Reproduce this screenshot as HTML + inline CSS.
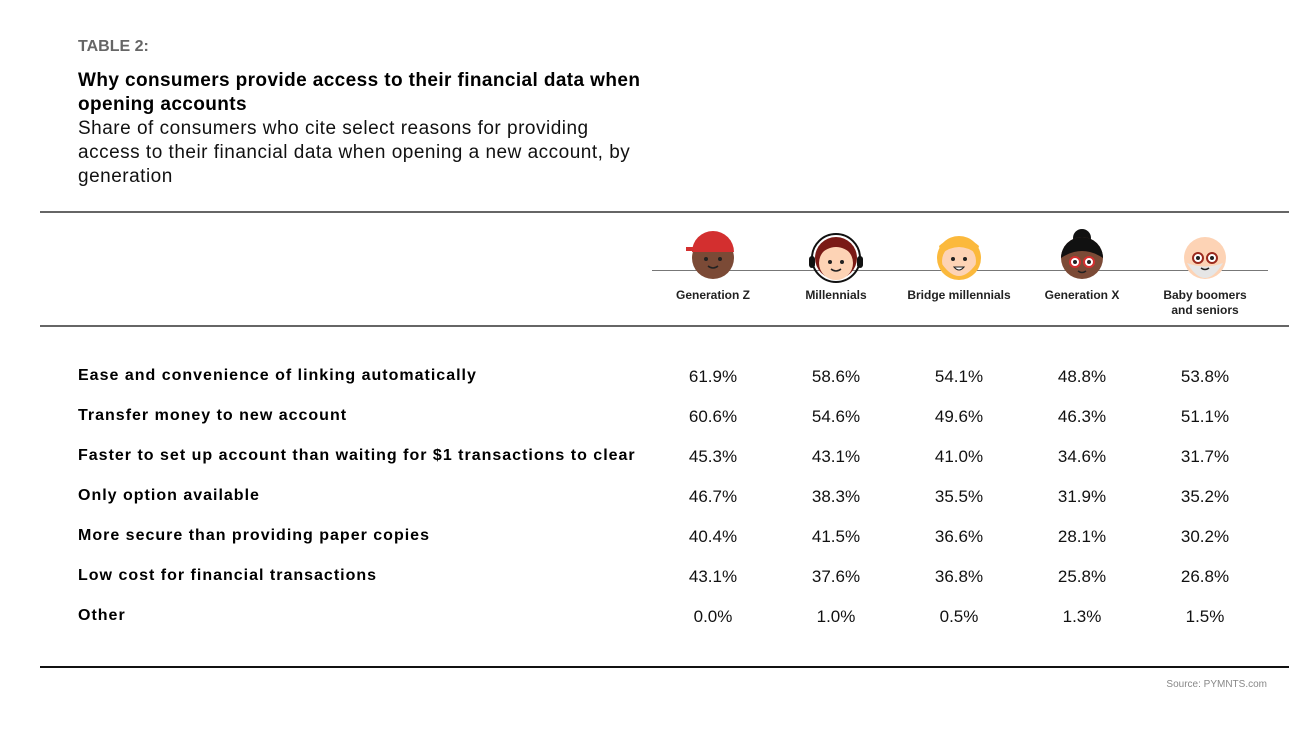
<!DOCTYPE html>
<html><head><meta charset="utf-8"><style>
body{margin:0;width:1289px;height:731px;background:#fff;position:relative;overflow:hidden;font-family:"Liberation Sans",sans-serif;color:#000}
.a{position:absolute;white-space:nowrap}
.t{font-weight:bold;font-size:16px;color:#666;left:78px;top:38px}
.h{font-weight:bold;font-size:19px;left:78px;line-height:24px;letter-spacing:0.4px}
.s{font-size:19px;left:78px;line-height:24px;color:#111;letter-spacing:0.5px}
.r{font-weight:bold;font-size:16px;left:78px;letter-spacing:1px}
.v{font-size:17px;width:120px;text-align:center;color:#111}
.c{font-weight:bold;font-size:12px;width:130px;text-align:center;line-height:15px;color:#222}
.ln{position:absolute;left:40px;right:0}
</style></head><body>
<div class="a t">TABLE 2:</div>
<div class="a h" style="top:69px">Why consumers provide access to their financial data when<br>opening accounts</div>
<div class="a s" style="top:117px">Share of consumers who cite select reasons for providing<br>access to their financial data when opening a new account, by<br>generation</div>
<div class="ln" style="top:211px;height:2px;background:#666"></div>
<div class="ln" style="top:325px;height:2px;background:#666"></div>
<div class="ln" style="top:666px;height:2px;background:#111"></div>
<div class="a" style="left:652px;width:616px;top:270px;height:1px;background:#777"></div>
<svg class="a" style="left:640px;top:228px" width="640" height="60">
<g transform="translate(73,30)"><circle r="21" fill="#7b4a36"/><path d="M-21,-6 A21,21 0 0 1 21,-6 Z" fill="#d32f2f"/><rect x="-27" y="-11" width="16" height="4" fill="#d32f2f"/><circle cx="-7" cy="1" r="2" fill="#222"/><circle cx="7" cy="1" r="2" fill="#222"/><path d="M-5,8 Q0,12 5,8" stroke="#222" fill="none" stroke-width="1.5"/></g>
<g transform="translate(196,30)"><circle r="24" fill="none" stroke="#111" stroke-width="2"/><circle r="21" fill="#7a1a16"/><circle cy="5" r="17" fill="#fdd3b5"/><path d="M-18,-2 Q0,-20 18,-2 L18,-10 Q0,-25 -18,-10Z" fill="#7a1a16"/><rect x="-27" y="-2" width="6" height="12" rx="3" fill="#111"/><rect x="21" y="-2" width="6" height="12" rx="3" fill="#111"/><circle cx="-6" cy="4" r="2" fill="#222"/><circle cx="6" cy="4" r="2" fill="#222"/><path d="M-5,11 Q0,15 5,11" stroke="#222" fill="none" stroke-width="1.5"/></g>
<g transform="translate(319,30)"><circle r="22" fill="#fbb93c"/><circle cy="3" r="17" fill="#fdd3b5"/><path d="M-18,-4 Q0,-18 18,-4 L20,-12 Q0,-30 -20,-12Z" fill="#fbb93c"/><path d="M-17,6 Q0,30 17,6 L17,14 Q0,28 -17,14Z" fill="#fbb93c"/><circle cx="-6" cy="1" r="2" fill="#222"/><circle cx="6" cy="1" r="2" fill="#222"/><path d="M-5,9 Q0,15 5,9Z" fill="#fff" stroke="#222"/></g>
<g transform="translate(442,30)"><circle cy="-20" r="9" fill="#111"/><circle r="21" fill="#7b4a36"/><path d="M-21,0 A21,21 0 0 1 21,0 Q0,-14 -21,0Z" fill="#111"/><circle cx="-7" cy="4" r="5" fill="#fff" stroke="#d32f2f" stroke-width="2"/><circle cx="7" cy="4" r="5" fill="#fff" stroke="#d32f2f" stroke-width="2"/><circle cx="-7" cy="4" r="2" fill="#222"/><circle cx="7" cy="4" r="2" fill="#222"/><path d="M-4,13 Q0,16 4,13" stroke="#222" fill="none" stroke-width="1.5"/></g>
<g transform="translate(565,30)"><circle r="21" fill="#fdd3b5"/><path d="M-18,5 Q0,35 18,5 Q0,12 -18,5Z" fill="#e6e6e6"/><circle cx="-7" cy="0" r="5" fill="#fff" stroke="#9b2a1e" stroke-width="2"/><circle cx="7" cy="0" r="5" fill="#fff" stroke="#9b2a1e" stroke-width="2"/><circle cx="-7" cy="0" r="2" fill="#222"/><circle cx="7" cy="0" r="2" fill="#222"/><path d="M-4,10 Q0,13 4,10" stroke="#222" fill="none" stroke-width="1.5"/></g>
</svg>
<div class="a c" style="left:648px;top:288px">Generation Z</div>
<div class="a c" style="left:771px;top:288px">Millennials</div>
<div class="a c" style="left:894px;top:288px">Bridge millennials</div>
<div class="a c" style="left:1017px;top:288px">Generation X</div>
<div class="a c" style="left:1140px;top:288px">Baby boomers<br>and seniors</div>

<div class="a r" style="top:367px">Ease and convenience of linking automatically</div>
<div class="a r" style="top:407px">Transfer money to new account</div>
<div class="a r" style="top:447px">Faster to set up account than waiting for $1 transactions to clear</div>
<div class="a r" style="top:487px">Only option available</div>
<div class="a r" style="top:527px">More secure than providing paper copies</div>
<div class="a r" style="top:567px">Low cost for financial transactions</div>
<div class="a r" style="top:607px">Other</div>

<div class="a v" style="left:653px;top:367px">61.9%</div><div class="a v" style="left:776px;top:367px">58.6%</div><div class="a v" style="left:899px;top:367px">54.1%</div><div class="a v" style="left:1022px;top:367px">48.8%</div><div class="a v" style="left:1145px;top:367px">53.8%</div>
<div class="a v" style="left:653px;top:407px">60.6%</div><div class="a v" style="left:776px;top:407px">54.6%</div><div class="a v" style="left:899px;top:407px">49.6%</div><div class="a v" style="left:1022px;top:407px">46.3%</div><div class="a v" style="left:1145px;top:407px">51.1%</div>
<div class="a v" style="left:653px;top:447px">45.3%</div><div class="a v" style="left:776px;top:447px">43.1%</div><div class="a v" style="left:899px;top:447px">41.0%</div><div class="a v" style="left:1022px;top:447px">34.6%</div><div class="a v" style="left:1145px;top:447px">31.7%</div>
<div class="a v" style="left:653px;top:487px">46.7%</div><div class="a v" style="left:776px;top:487px">38.3%</div><div class="a v" style="left:899px;top:487px">35.5%</div><div class="a v" style="left:1022px;top:487px">31.9%</div><div class="a v" style="left:1145px;top:487px">35.2%</div>
<div class="a v" style="left:653px;top:527px">40.4%</div><div class="a v" style="left:776px;top:527px">41.5%</div><div class="a v" style="left:899px;top:527px">36.6%</div><div class="a v" style="left:1022px;top:527px">28.1%</div><div class="a v" style="left:1145px;top:527px">30.2%</div>
<div class="a v" style="left:653px;top:567px">43.1%</div><div class="a v" style="left:776px;top:567px">37.6%</div><div class="a v" style="left:899px;top:567px">36.8%</div><div class="a v" style="left:1022px;top:567px">25.8%</div><div class="a v" style="left:1145px;top:567px">26.8%</div>
<div class="a v" style="left:653px;top:607px">0.0%</div><div class="a v" style="left:776px;top:607px">1.0%</div><div class="a v" style="left:899px;top:607px">0.5%</div><div class="a v" style="left:1022px;top:607px">1.3%</div><div class="a v" style="left:1145px;top:607px">1.5%</div>

<div class="a" style="right:22px;top:679px;font-size:10px;color:#888">Source: PYMNTS.com</div>
</body></html>
